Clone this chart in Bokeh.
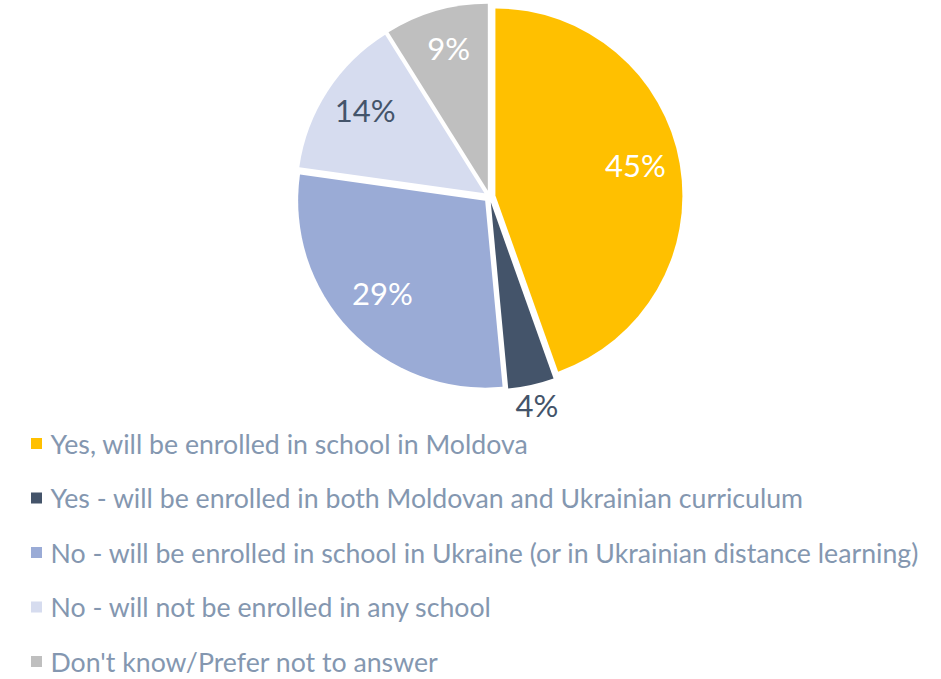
import math
from bokeh.plotting import figure
from bokeh.models import Range1d, ColumnDataSource
from bokeh.core.properties import value
from bokeh.embed import file_html
from bokeh.resources import INLINE

categories = [
    "Yes, will be enrolled in school in Moldova",
    "Yes - will be enrolled in both Moldovan and Ukrainian curriculum",
    "No - will be enrolled in school in Ukraine (or in Ukrainian distance learning)",
    "No - will not be enrolled in any school",
    "Don't know/Prefer not to answer",
]
values = [45, 4, 29, 14, 9]
colors = ["#FFC000", "#44546A", "#9AABD6", "#D6DCEF", "#BFBFBF"]
label_colors = ["#FFFFFF", "#44546A", "#FFFFFF", "#44546A", "#FFFFFF"]

W, H = 933, 679
p = figure(width=W, height=H, output_backend="svg", toolbar_location=None,
           x_range=Range1d(0, W), y_range=Range1d(0, H),
           min_border=0, outline_line_color=None)
p.axis.visible = False
p.grid.visible = False
p.background_fill_color = "white"

def Y(sy):
    return H - sy

cx, cy, r, d = 489, Y(196), 187, 6
total = sum(values)
xs, ys, starts, ends = [], [], [], []
lx, ly, ltxt = [], [], []
acc = 0.0
for i, v in enumerate(values):
    t1 = acc / total * 2 * math.pi
    acc += v
    t2 = acc / total * 2 * math.pi
    tm = (t1 + t2) / 2
    ox = cx + d * math.sin(tm)
    oy = cy + d * math.cos(tm)
    xs.append(ox); ys.append(oy)
    starts.append(math.pi / 2 - t1); ends.append(math.pi / 2 - t2)
    frac = 0.76 if v >= 8 else 1.14
    lx.append(ox + frac * r * math.sin(tm))
    ly.append(oy + frac * r * math.cos(tm) + 6)
    ltxt.append(f"{v}%")

src = ColumnDataSource(dict(x=xs, y=ys, s=starts, e=ends, c=colors))
p.wedge(x="x", y="y", radius=r, start_angle="s", end_angle="e",
        direction="clock", fill_color="c", line_color=None, source=src)

p.text(x=lx, y=ly, text=ltxt, text_color=label_colors,
       text_font=value("Lato"), text_font_size="31px",
       text_align="center", text_baseline="middle")

# legend
rows = [Y(443 + 54.5 * i) for i in range(len(categories))]
p.scatter(x=[36] * len(categories), y=rows, marker="square", size=11,
          fill_color=colors, line_color=None)
p.text(x=[50] * len(categories), y=rows, text=categories, text_color="#8497B0",
       text_font=value("Lato"), text_font_size="26.7px",
       text_align="left", text_baseline="middle")

open("out.html", "w").write(file_html(p, INLINE))
